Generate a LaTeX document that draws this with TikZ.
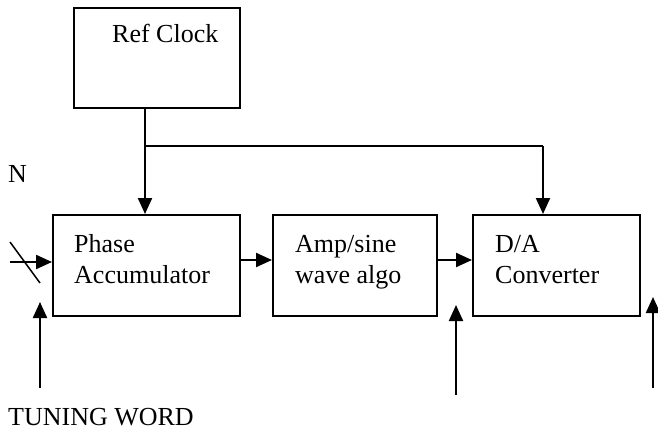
\documentclass[tikz,border=0pt]{standalone}
\usepackage{fontspec}
\setmainfont{Liberation Serif}
\usetikzlibrary{arrows.meta}
\begin{document}
\begin{tikzpicture}[x=1pt,y=-1pt,
  blockbox/.style={draw,line width=2pt,inner sep=0pt,rectangle},
  lbl/.style={anchor=base west,inner sep=0pt,font=\fontsize{26}{30.5}\selectfont},
  sig/.style={line width=2.2pt,-{Triangle[length=16pt,width=14pt]}},
  wire/.style={line width=1.8pt}]
\useasboundingbox (0,0) rectangle (658,433);

% blocks
\node[blockbox,minimum width=166pt,minimum height=100pt] (ref) at (157,58) {};
\node[blockbox,minimum width=187pt,minimum height=101pt] (pha) at (146.5,265.5) {};
\node[blockbox,minimum width=164pt,minimum height=101pt] (amp) at (355,265.5) {};
\node[blockbox,minimum width=167pt,minimum height=101pt] (dac) at (556.5,265.5) {};

% block texts, one node per line
\node[lbl] (reftxt) at (112,43) {Ref Clock};
\node[lbl] (phatxtA) at (74,252) {Phase};
\node[lbl] (phatxtB) at (74,283) {Accumulator};
\node[lbl] (amptxtA) at (295,252) {Amp/sine};
\node[lbl] (amptxtB) at (295,283) {wave algo};
\node[lbl] (dactxtA) at (495,252) {D/A};
\node[lbl] (dactxtB) at (495,283) {Converter};
\node[lbl] (ntxt) at (8,182) {N};
\node[lbl] (tunetxt) at (8,425) {TUNING WORD};

% clock distribution
\coordinate (tap) at (145,146);
\coordinate (dactap) at (543,146);
\draw[wire] (ref.south -| tap) -- (tap);
\draw[sig] (tap) -- (tap |- pha.north);
\draw[wire] (tap) -- (dactap);
\draw[sig] (dactap) -- (dactap |- dac.north);

% data path
\coordinate (nin) at (10,262);
\draw[sig] (nin) -- (nin -| pha.west);
\coordinate (slashA) at (10,242);
\coordinate (slashB) at (40,283);
\draw[line width=1.5pt] (slashA) -- (slashB);
\draw[sig] (pha.east |- 0,260) -- (amp.west |- 0,260);
\draw[sig] (amp.east |- 0,260) -- (dac.west |- 0,260);

% free input arrows
\coordinate (twbase) at (40,388);
\coordinate (twtip) at (40,302);
\draw[sig] (twbase) -- (twtip);
\coordinate (midbase) at (456,395);
\coordinate (midtip) at (456,305);
\draw[sig] (midbase) -- (midtip);
\coordinate (rbase) at (653,388);
\coordinate (rtip) at (653,297);
\draw[sig] (rbase) -- (rtip);
\end{tikzpicture}
\end{document}
